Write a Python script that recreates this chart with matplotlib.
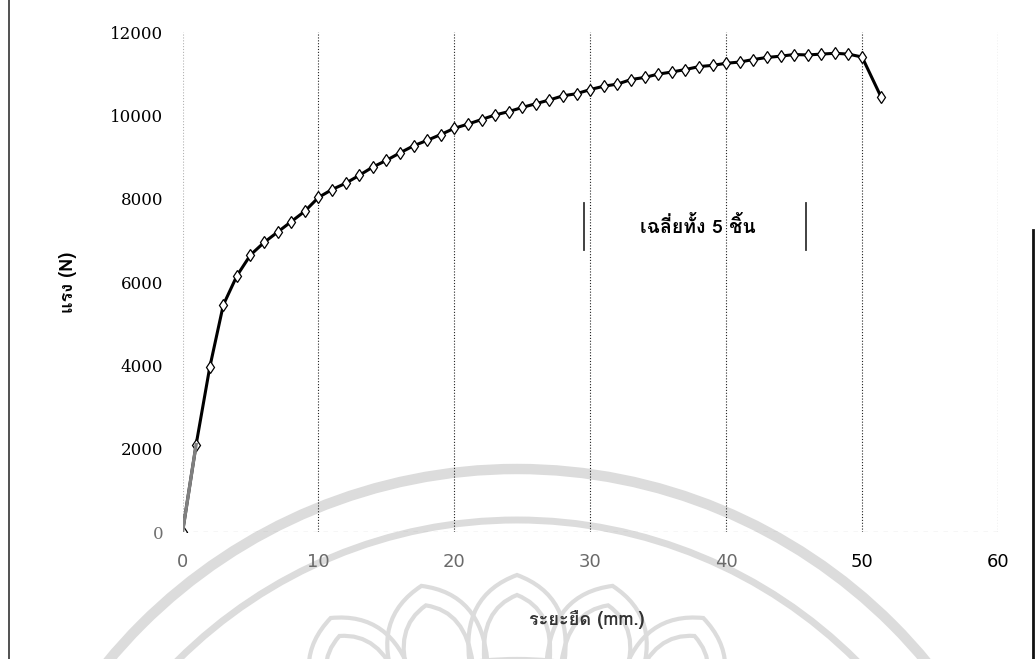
import numpy as np
import matplotlib
matplotlib.use('Agg')
import matplotlib.pyplot as plt
from matplotlib import font_manager
from matplotlib.ft2font import FT2Font
from matplotlib.patches import Arc, PathPatch
from matplotlib.path import Path

# ระยะยืด (mm.) กับแรง (N) เฉลี่ยจากชิ้นงาน 5 ชิ้น
elongation = [0, 1, 2, 3, 4, 5, 6, 7, 8, 9,
              10, 11, 12, 13, 14, 15, 16, 17, 18, 19,
              20, 21, 22, 23, 24, 25, 26, 27, 28, 29,
              30, 31, 32, 33, 34, 35, 36, 37, 38, 39,
              40, 41, 42, 43, 44, 45, 46, 47, 48, 49,
              50, 51.4]
force = [0, 2100, 3950, 5450, 6150, 6650, 6950, 7200, 7450, 7700,
         8030, 8220, 8370, 8560, 8760, 8920, 9100, 9270, 9400, 9540,
         9690, 9790, 9900, 10010, 10090, 10190, 10280, 10370, 10470, 10520,
         10620, 10700, 10750, 10860, 10910, 10990, 11040, 11100, 11170, 11200,
         11250, 11280, 11340, 11390, 11420, 11460, 11450, 11470, 11490, 11470,
         11400, 10440]

x_ticks = [0, 10, 20, 30, 40, 50, 60]
y_ticks = [0, 2000, 4000, 6000, 8000, 10000, 12000]
series_name = 'เฉลี่ยทั้ง 5 ชิ้น'
x_title = 'ระยะยืด (mm.)'
y_title = 'แรง (N)'


def find_thai_font():
    # หาฟอนต์ที่มีอักษรไทย ถ้าไม่มีก็ใช้ DejaVu Sans
    for f in font_manager.fontManager.ttflist:
        try:
            if 0x0E01 in FT2Font(f.fname).get_charmap():
                return [f.name, 'DejaVu Sans']
        except Exception:
            pass
    return ['DejaVu Sans']


thai_family = find_thai_font()

fig = plt.figure(figsize=(10.36, 6.59), dpi=100)

# ชั้นล่างแบบพิกเซล: ขอบกรอบและลายน้ำ
bg = fig.add_axes([0, 0, 1, 1], zorder=0)
bg.set_xlim(0, 1036)
bg.set_ylim(659, 0)
bg.axis('off')

bg.plot([9, 9], [0, 659], color='#333333', linewidth=1.2)
bg.plot([1033, 1033], [230, 659], color='#111111', linewidth=2.0)

wm = '#dcdcdc'
cx, cy = 517, 1000
bg.add_patch(Arc((cx, cy), 2 * 531, 2 * 531, theta1=180, theta2=360,
                 color=wm, linewidth=7.5))
bg.add_patch(Arc((cx, cy), 2 * 480, 2 * 480, theta1=180, theta2=360,
                 color=wm, linewidth=5))
bg.add_patch(Arc((cx, cy), 2 * 340, 2 * 340, theta1=180, theta2=360,
                 color=wm, linewidth=4.5))


def polar(r, deg):
    t = np.radians(deg)
    return (cx + r * np.cos(t), cy + r * np.sin(t))


def petal(theta, r_base, r_tip, half):
    bl = polar(r_base, theta - half)
    br = polar(r_base, theta + half)
    tip = polar(r_tip, theta)
    cl = polar(r_base + 0.8 * (r_tip - r_base), theta - half)
    cr = polar(r_base + 0.8 * (r_tip - r_base), theta + half)
    verts = [bl, cl, tip, cr, br]
    codes = [Path.MOVETO, Path.CURVE3, Path.CURVE3, Path.CURVE3, Path.CURVE3]
    return PathPatch(Path(verts, codes), fill=False, edgecolor=wm,
                     linewidth=3.0)


for k in range(-5, 6):
    th = -90 + 13 * k
    bg.add_patch(petal(th, 340, 425, 8.0))
    bg.add_patch(petal(th, 340, 405, 5.5))

ax = fig.add_axes([0.1762, 0.1927, 0.7871, 0.7587], zorder=1)
ax.patch.set_alpha(0)

ax.set_xlim(0, 60)
ax.set_ylim(0, 12000)
for s in ax.spines.values():
    s.set_visible(False)

# เส้นกริดแนวตั้งแบบจุด
ax.set_xticks(x_ticks)
ax.set_yticks(y_ticks)
ax.grid(axis='x', linestyle=(0, (1, 1.6)), color='#222222', linewidth=0.8)
ax.get_xgridlines()[0].set_alpha(0.35)
ax.axhline(0, color='#666666', linestyle=(0, (4, 5)), linewidth=0.8)

ax.tick_params(axis='x', length=0, pad=15, labelsize=13)
ax.tick_params(axis='y', length=0, pad=14, labelsize=12)
for lbl in ax.get_yticklabels():
    lbl.set_family('DejaVu Serif')
ax.get_yticklabels()[0].set_color('#707070')
x_label_colors = ['#6a6a6a'] * 5 + ['black', 'black']
for lbl, c in zip(ax.get_xticklabels(), x_label_colors):
    lbl.set_color(c)

# เส้นกราฟแรงเฉลี่ย
ax.plot(elongation, force, color='black', linewidth=2.2, zorder=3,
        marker='d', markersize=6.5, markerfacecolor='white',
        markeredgecolor='black', markeredgewidth=0.9)
ax.plot(elongation[:2], force[:2], color='#808080', linewidth=2.4, zorder=4)

ax.set_xlabel(x_title, family=thai_family, fontsize=13, color='#333333',
              fontweight='bold', va='top')
ax.xaxis.set_label_coords(0.496, -0.155)
ax.set_ylabel(y_title, family=thai_family, fontsize=13, fontweight='bold')
ax.yaxis.set_label_coords(-0.129, 0.5)

# กล่องชื่อชุดข้อมูล
ax.text(0.632, 0.612, series_name, transform=ax.transAxes, family=thai_family,
        fontsize=14, fontweight='bold', ha='center', va='center')
for bx in (0.492, 0.765):
    ax.plot([bx, bx], [0.564, 0.658], transform=ax.transAxes,
            color='#333333', linewidth=1.3, clip_on=False)

fig.savefig('out.png', dpi=100)
